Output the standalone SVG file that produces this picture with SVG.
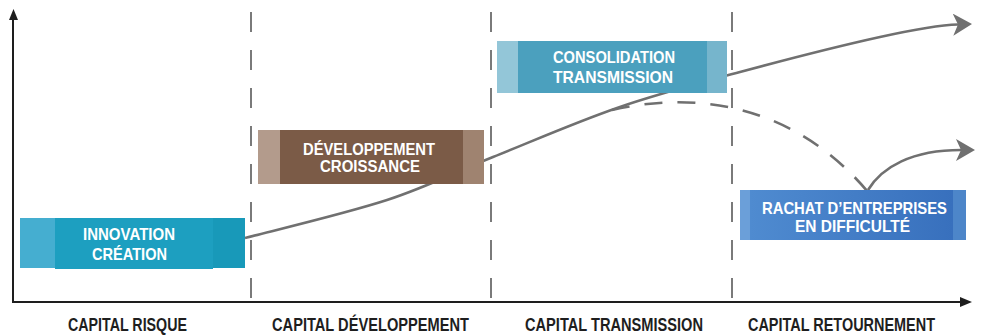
<svg xmlns="http://www.w3.org/2000/svg" width="995" height="336" viewBox="0 0 995 336">
<style>
.axis{stroke:#1e1e1e;stroke-width:2;fill:none}
.vdash{stroke:#7a7a7a;stroke-width:2;stroke-dasharray:20 18;fill:none}
.curve{stroke:#707070;stroke-width:2.6;fill:none}
.dcurve{stroke:#707070;stroke-width:2.6;fill:none;stroke-dasharray:18 15}
.bt{font-family:"Liberation Sans",Arial,sans-serif;font-weight:bold;font-size:17px;fill:#ffffff}
.bs{font-size:16px}
.lbl{font-family:"Liberation Sans",Arial,sans-serif;font-weight:bold;font-size:18px;fill:#1e1e1e}
</style>
<defs>
<marker id="ah" viewBox="0 0 19 22" refX="5" refY="11" markerWidth="19" markerHeight="22" markerUnits="userSpaceOnUse" orient="auto">
<path d="M0,0 L19,11 L0,22 L5,11 Z" fill="#707070"/>
</marker>
<linearGradient id="gr4" x1="0" y1="0" x2="1" y2="0">
<stop offset="0" stop-color="#4f8bd0"/>
<stop offset="1" stop-color="#3870bd"/>
</linearGradient>
</defs>
<g id="axes">
<line class="axis" x1="13" y1="302" x2="13" y2="18"/>
<polygon points="13.5,9 9,20 18,20" fill="#1e1e1e"/>
<line class="axis" x1="12" y1="302" x2="962" y2="302"/>
<polygon points="972,302 960,297 960,307" fill="#1e1e1e"/>
</g>
<g id="dividers">
<line class="vdash" x1="251" y1="12" x2="251" y2="302"/>
<line class="vdash" x1="491" y1="12" x2="491" y2="302"/>
<line class="vdash" x1="732" y1="12" x2="732" y2="302"/>
</g>
<g id="connectors">
<path class="curve" marker-end="url(#ah)" d="M245,238 C268.7,231.7 345.7,213.5 387,200 C428.3,186.5 454.7,172.3 493,157 C531.3,141.7 575.8,122.2 617,108 C658.2,93.8 696.2,83.8 740,72 C783.8,60.2 843.7,45 880,37 C916.3,29 940,25 958,24.5"/>
<path class="dcurve" d="M612,110 C690,92 790,100 868,192"/>
<path class="curve" marker-end="url(#ah)" d="M868,190 C882,167 912,150 961,150"/>
</g>
<g id="innovation">
<rect x="20" y="218" width="225" height="50" fill="#45aed0"/>
<rect x="55" y="218" width="158" height="51" fill="#1d9fc0"/>
<rect x="213" y="218" width="32" height="50" fill="#1899b9"/>
<text class="bt" x="83" y="240" textLength="92" lengthAdjust="spacingAndGlyphs">INNOVATION</text>
<text class="bt" x="92" y="260" textLength="75" lengthAdjust="spacingAndGlyphs">CRÉATION</text>
</g>
<g id="developpement">
<rect x="258" y="130" width="226" height="54" fill="#b39b8c"/>
<rect x="280" y="130" width="183" height="54" fill="#7b5b47"/>
<rect x="463" y="130" width="21" height="54" fill="#9f8370"/>
<text class="bt bs" x="303" y="155" textLength="132" lengthAdjust="spacingAndGlyphs">DÉVELOPPEMENT</text>
<text class="bt bs" x="320" y="172" textLength="100" lengthAdjust="spacingAndGlyphs">CROISSANCE</text>
</g>
<g id="consolidation">
<rect x="497" y="41" width="230" height="52" fill="#93c6d8"/>
<rect x="518" y="41" width="189" height="52" fill="#4ba0be"/>
<rect x="707" y="41" width="20" height="52" fill="#76b5cc"/>
<text class="bt" x="553" y="63" textLength="122" lengthAdjust="spacingAndGlyphs">CONSOLIDATION</text>
<text class="bt" x="553" y="83" textLength="120" lengthAdjust="spacingAndGlyphs">TRANSMISSION</text>
</g>
<g id="rachat">
<rect x="740" y="190" width="226" height="50" fill="#6b9fd9"/>
<rect x="750" y="190" width="203" height="50" fill="url(#gr4)"/>
<rect x="953" y="190" width="13" height="50" fill="#4d86c9"/>
<text class="bt" x="762" y="214" textLength="185" lengthAdjust="spacingAndGlyphs">RACHAT D’ENTREPRISES</text>
<text class="bt" x="795" y="232" textLength="115" lengthAdjust="spacingAndGlyphs">EN DIFFICULTÉ</text>
</g>
<g id="labels">
<text class="lbl" x="68" y="331" textLength="119" lengthAdjust="spacingAndGlyphs">CAPITAL RISQUE</text>
<text class="lbl" x="272" y="331" textLength="197" lengthAdjust="spacingAndGlyphs">CAPITAL DÉVELOPPEMENT</text>
<text class="lbl" x="525" y="331" textLength="178" lengthAdjust="spacingAndGlyphs">CAPITAL TRANSMISSION</text>
<text class="lbl" x="748" y="331" textLength="187" lengthAdjust="spacingAndGlyphs">CAPITAL RETOURNEMENT</text>
</g>
</svg>
